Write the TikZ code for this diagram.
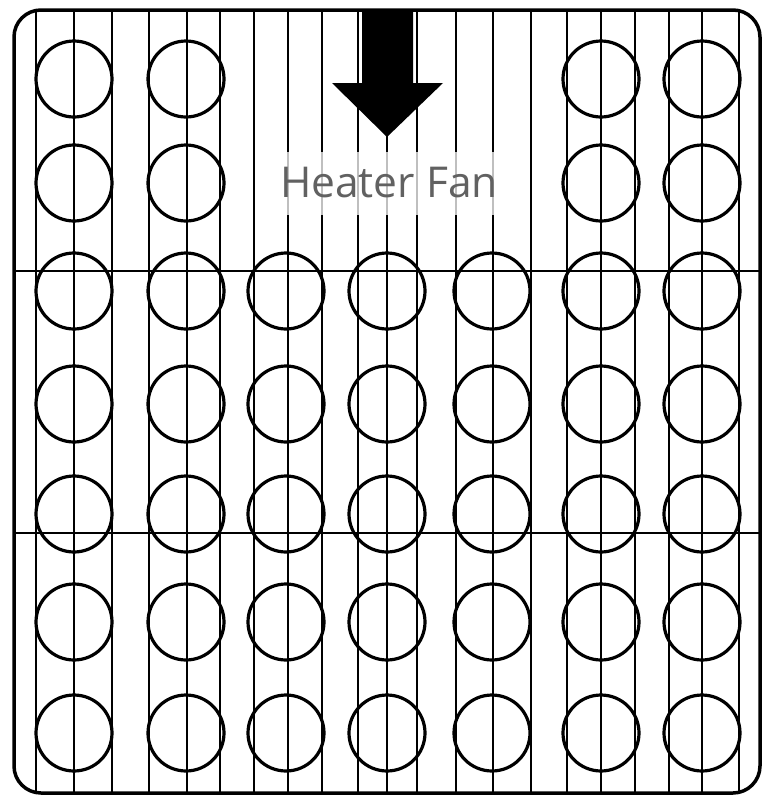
\documentclass[tikz,border=0pt]{standalone}
\usepackage{fontspec}
\setmainfont{Open Sans}
\begin{document}
\begin{tikzpicture}[x=1pt,y=-1pt,
  frame/.style={line width=3.5pt,rounded corners=27pt},
  vline/.style={line width=2.1pt},
  hline/.style={line width=2.2pt},
  hole/.style={circle,draw,line width=3.2pt,minimum size=76pt,inner sep=0pt},
  fanarrow/.style={fill=black,draw=none},
  fanlabel/.style={fill=white,fill opacity=0.75,text opacity=1,text=black!62,inner sep=0pt,minimum width=228pt,minimum height=63pt,font=\fontsize{42.5}{42.5}\selectfont}
]
\useasboundingbox (0,0) rectangle (771,801);
\fill[white] (0,0) rectangle (771,801);
% vertical lines
\foreach \x in {36,74,112,149,187,220,254,288,322,358,387,417,456,493,531,567,601,635,669,702,739}
  \draw[vline] (\x,10) -- (\x,793);
% horizontal lines
\draw[hline] (14,271) -- (760,271);
\draw[hline] (14,533) -- (760,533);
% circles
\foreach \i/\x in {1/74,2/186,6/601,7/702}
  \foreach \j/\y in {1/79,2/183}
    \node[hole] (c\i-\j) at (\x,\y) {};
\foreach \i/\x in {1/74,2/186,3/286,4/387,5/492,6/601,7/702}
  \foreach \j/\y in {3/291,4/404,5/514,6/622,7/733}
    \node[hole] (c\i-\j) at (\x,\y) {};
% arrow
\fill[fanarrow] (362,10) -- (413,10) -- (413,83) -- (443,83) -- (387,137) -- (332,83) -- (362,83) -- cycle;
% label
\node[fanlabel] (lbl) at (389,183) {Heater Fan};
% frame
\draw[frame] (14,10) rectangle (760,793);
\end{tikzpicture}
\end{document}
